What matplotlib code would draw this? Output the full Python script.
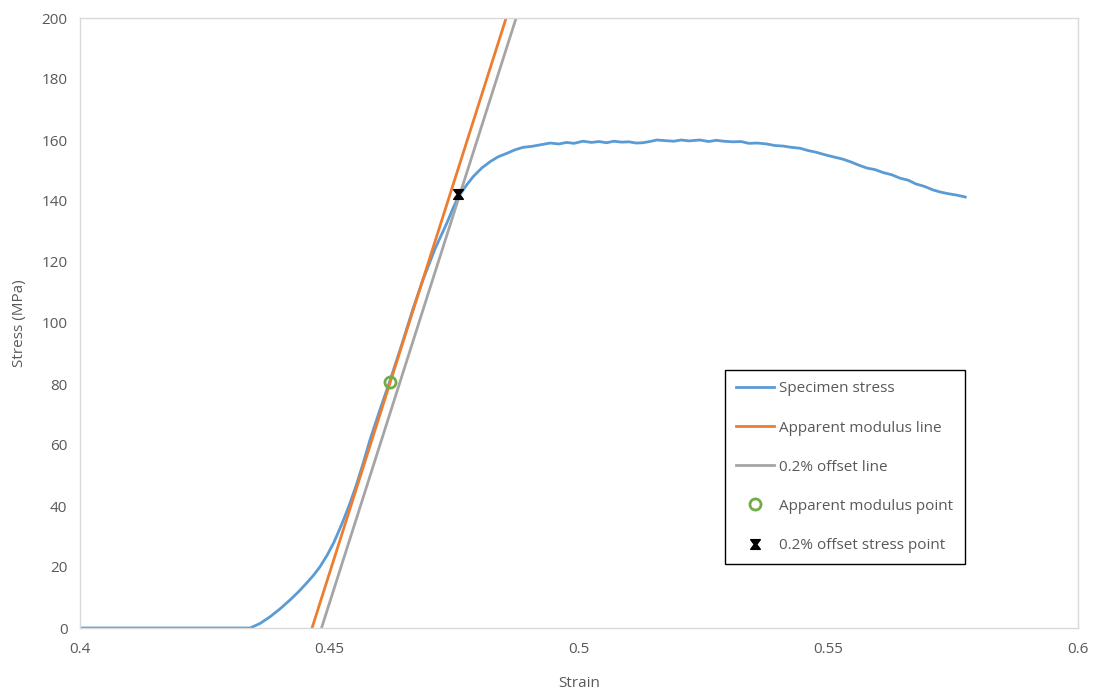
import matplotlib.pyplot as plt
from matplotlib.path import Path

# specimen stress-strain curve
strain = [0.4000, 0.4100, 0.4200, 0.4300, 0.4341, 0.4361, 0.4381, 0.4401,
          0.4421, 0.4438, 0.4454, 0.4468, 0.4481, 0.4495, 0.4508, 0.4518,
          0.4528, 0.4541, 0.4554, 0.4568, 0.4581, 0.4601, 0.4621, 0.4645,
          0.4668, 0.4688, 0.4712, 0.4735, 0.4748, 0.4758, 0.4775, 0.4788,
          0.4805, 0.4822, 0.4838, 0.4855, 0.4872, 0.4888, 0.4905, 0.4922,
          0.4942, 0.4960, 0.4975, 0.4990, 0.5008, 0.5025, 0.5040, 0.5055,
          0.5070, 0.5085, 0.5100, 0.5115, 0.5128, 0.5142, 0.5156, 0.5172,
          0.5190, 0.5205, 0.5220, 0.5242, 0.5260, 0.5275, 0.5290, 0.5309,
          0.5325, 0.5340, 0.5358, 0.5376, 0.5392, 0.5410, 0.5425, 0.5443,
          0.5460, 0.5475, 0.5492, 0.5509, 0.5527, 0.5545, 0.5560, 0.5577,
          0.5593, 0.5610, 0.5627, 0.5643, 0.5660, 0.5675, 0.5692, 0.5710,
          0.5725, 0.5740, 0.5758, 0.5774]
stress = [0.0, 0.0, 0.0, 0.0, 0.0, 1.5, 3.7, 6.3,
          9.2, 11.9, 14.7, 17.3, 20.1, 23.8, 27.8, 31.5,
          35.4, 40.9, 47.0, 54.3, 61.6, 71.5, 81.0, 93.0,
          105.0, 114.5, 124.5, 132.7, 137.8, 141.3, 145.3, 148.0,
          150.8, 152.9, 154.5, 155.6, 156.8, 157.6, 157.9, 158.4,
          159.0, 158.7, 159.2, 158.9, 159.6, 159.2, 159.5, 159.1,
          159.6, 159.3, 159.4, 159.0, 159.1, 159.5, 160.0, 159.8,
          159.6, 160.0, 159.7, 160.0, 159.5, 159.9, 159.6, 159.4,
          159.5, 158.9, 159.0, 158.7, 158.2, 158.0, 157.6, 157.3,
          156.5, 156.0, 155.2, 154.5, 153.8, 152.8, 151.8, 150.8,
          150.3, 149.3, 148.6, 147.5, 146.8, 145.6, 144.8, 143.6,
          142.9, 142.4, 141.9, 141.3]

# fitted lines (stress 0 to 200)
line_stress = [0, 200]
modulus_line_strain = [0.4465, 0.4854]
offset_line_strain = [0.4484, 0.4874]

modulus_point = (0.4621, 80.7)
offset_point = (0.4758, 142.3)

BLUE = "#5B9BD5"
ORANGE = "#ED7D31"
GRAY = "#A5A5A5"
GREEN = "#70AD47"
TEXT = "#595959"

plt.rcParams["font.family"] = ["Open Sans", "DejaVu Sans"]

bowtie = Path([(-1, 1), (1, 1), (0.25, 0), (1, -1), (-1, -1), (-0.25, 0), (-1, 1)],
              [Path.MOVETO] + [Path.LINETO] * 5 + [Path.CLOSEPOLY])

fig = plt.figure(figsize=(11.02, 6.94), dpi=100)
ax = fig.add_axes([80 / 1102, 66 / 694, 998 / 1102, 610 / 694])

ax.plot(strain, stress, color=BLUE, lw=2, label="Specimen stress")
ax.plot(modulus_line_strain, line_stress, color=ORANGE, lw=2, label="Apparent modulus line")
ax.plot(offset_line_strain, line_stress, color=GRAY, lw=2, label="0.2% offset line")
ax.plot([modulus_point[0]], [modulus_point[1]], ls="none", marker="o", ms=8,
        mfc="none", mec=GREEN, mew=2, label="Apparent modulus point")
ax.plot([offset_point[0]], [offset_point[1]], ls="none", marker=bowtie, ms=7,
        color="black", label="0.2% offset stress point")

ax.set_xlim(0.4, 0.6)
ax.set_ylim(0, 200)
ax.set_xticks([0.4, 0.45, 0.5, 0.55, 0.6])
ax.set_xticklabels(["0.4", "0.45", "0.5", "0.55", "0.6"])
ax.set_yticks(range(0, 201, 20))

for s in ax.spines.values():
    s.set_color("#D9D9D9")
    s.set_linewidth(1)
ax.tick_params(length=0, colors=TEXT, labelsize=11)
ax.tick_params(axis="x", pad=10)
ax.tick_params(axis="y", pad=9)

ax.set_xlabel("Strain", color=TEXT, fontsize=11, labelpad=14)
ax.set_ylabel("Stress (MPa)", color=TEXT, fontsize=11, labelpad=10)

leg = ax.legend(loc="upper left", bbox_to_anchor=(0.646, 0.423), fancybox=False,
                edgecolor="black", framealpha=1, fontsize=11, labelspacing=1.58,
                handlelength=2.5, handletextpad=0.3, borderpad=0.75,
                borderaxespad=0, labelcolor=TEXT)
leg.get_frame().set_linewidth(1)

fig.savefig("out.png", dpi=100)
